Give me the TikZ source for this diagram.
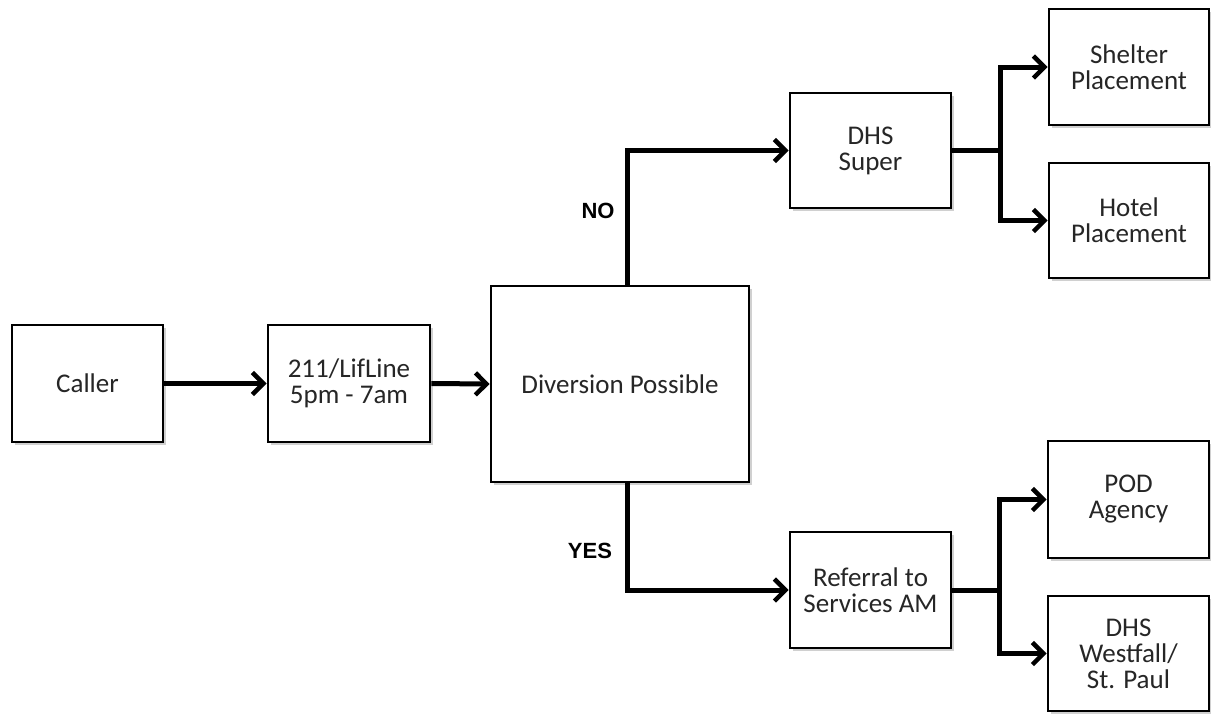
\documentclass[tikz,border=0pt]{standalone}
\usepackage{fontspec}
\setmainfont{Carlito}
\newfontfamily\lblfont{Liberation Sans}
\usetikzlibrary{arrows.meta,shadows}
\begin{document}
\begin{tikzpicture}[x=1pt,y=-1pt,
  box/.style={draw=black, line width=2.8pt, fill=white, align=center,
    inner sep=0pt, text=black!85,
    font=\fontsize{27}{26}\selectfont,
    drop shadow={shadow xshift=3pt, shadow yshift=-3pt, fill=black!30, opacity=0.6}},
  conn/.style={line width=5pt, line join=miter, draw=black},
  arr/.style={conn, -{Straight Barb[length=11pt,width=22pt,line width=4.5pt]}},
  lbl/.style={font=\lblfont\bfseries\fontsize{22}{22}\selectfont, text=black}]
\useasboundingbox (0,0) rectangle (1211,713);
\fill[white] (0,0) rectangle (1211,713);
\node[box, minimum width=151pt, minimum height=117pt] (caller) at (87.5,383.5) {Caller};
\node[box, minimum width=162pt, minimum height=117pt] (line) at (349,383.5) {211/LifLine\\5pm - 7am};
\node[box, minimum width=258pt, minimum height=196pt] (div) at (620,384) {Diversion Possible};
\node[box, minimum width=161pt, minimum height=115pt] (dhs) at (870.5,150.5) {DHS\\Super};
\node[box, minimum width=161pt, minimum height=116pt] (ref) at (870.5,590) {Referral to\\Services AM};
\node[box, minimum width=160pt, minimum height=116pt] (shel) at (1129,67) {Shelter\\Placement};
\node[box, minimum width=160pt, minimum height=115pt] (hotel) at (1129,220.5) {Hotel\\Placement};
\node[box, minimum width=161pt, minimum height=117pt] (pod) at (1128.5,499.5) {POD\\Agency};
\node[box, minimum width=161pt, minimum height=115pt] (west) at (1128.5,653.5) {DHS\\Westfall/\\St. Paul};

\draw[arr] (caller.east) -- (line.west);
\draw[arr] (line.east) -- (div.west);
\draw[arr] ([xshift=7pt]div.north) |- (dhs.west);
\draw[arr] ([xshift=7pt]div.south) |- (ref.west);

\draw[conn] (dhs.east) -- ++(48,0) coordinate (b1);
\draw[arr] (b1) |- (shel.west);
\draw[arr] (b1) |- (hotel.west);
\draw[conn] (ref.east) -- ++(47,0) coordinate (b2);
\draw[arr] (b2) |- (pod.west);
\draw[arr] (b2) |- (west.west);

\node[lbl] (no) at (598,211) {NO};
\node[lbl] (yes) at (590,551) {YES};
\end{tikzpicture}
\end{document}
